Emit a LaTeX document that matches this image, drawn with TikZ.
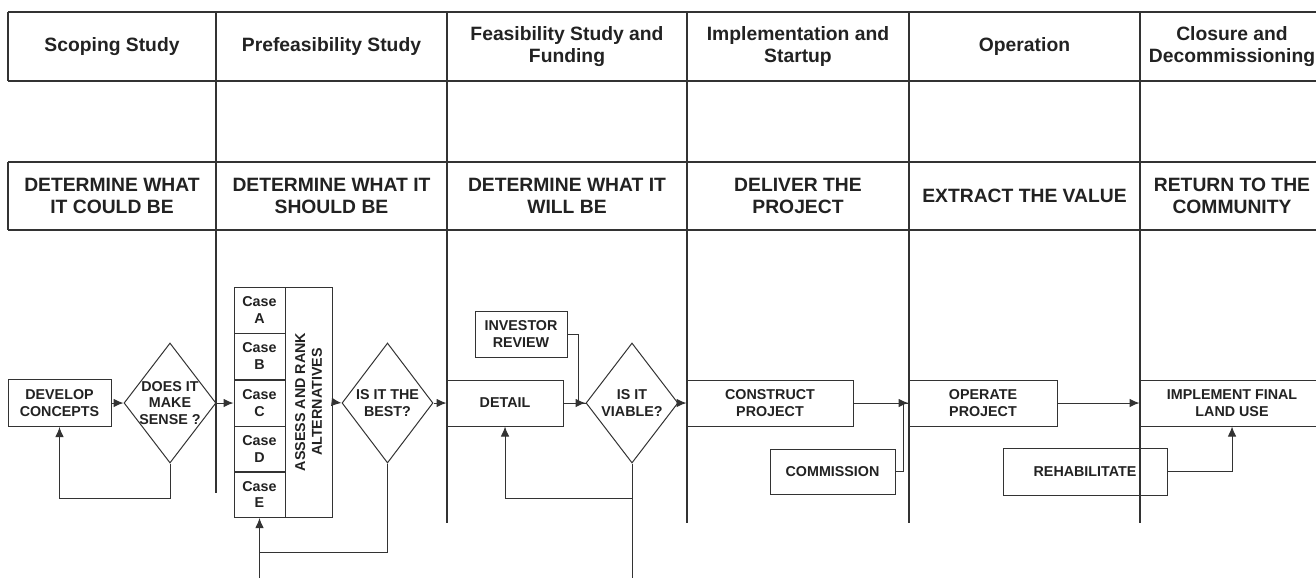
\documentclass[tikz,border=0pt]{standalone}
\usepackage{fontspec}
\setmainfont{Liberation Sans}
\usetikzlibrary{shapes.geometric,arrows.meta}
\newcommand\hdfont{\fontsize{19.3}{22.2}\selectfont\bfseries}
\newcommand\ndfont{\fontsize{14.3}{16.7}\selectfont\bfseries}
\definecolor{ink}{HTML}{222222}
\definecolor{linec}{HTML}{333333}
\begin{document}
\begin{tikzpicture}[x=1pt,y=-1pt,
  grid/.style={draw=linec,line width=1.1pt},
  ln/.style={draw=linec,line width=1pt},
  arr/.style={ln,-{Latex[length=10pt,width=8.5pt]}},
  head/.style={font=\hdfont,text=ink,align=center,inner sep=0pt},
  box/.style={rectangle,draw=linec,line width=1pt,inner sep=0pt,align=center,font=\ndfont,text=ink},
  dia/.style={diamond,draw=linec,line width=1pt,inner sep=0pt},
  dtxt/.style={font=\ndfont,text=ink,align=center,inner sep=0pt}]
\useasboundingbox (0,0) rectangle (1316,578);
\clip (0,0) rectangle (1316,578);
% table grid
\draw[grid] (8,12) -- (1330,12) (8,81) -- (1330,81) (8,162) -- (1330,162) (8,230) -- (1330,230);
\draw[grid] (8,12) -- (8,81) (8,162) -- (8,230);
\draw[grid] (216,12) -- (216,493);
\foreach \x in {447,687,909,1140} \draw[grid] (\x,12) -- (\x,523);
% headers
\node[head] (h1) at (112,46.5) {Scoping Study};
\node[head] (h2) at (331.5,46.5) {Prefeasibility Study};
\node[head] (h3) at (567,46.5) {Feasibility Study and\\Funding};
\node[head] (h4) at (798,46.5) {Implementation and\\Startup};
\node[head] (h5) at (1024.5,46.5) {Operation};
\node[head] (h6) at (1232,46.5) {Closure and\\Decommissioning};
\node[head] (s1) at (112,196) {DETERMINE WHAT\\IT COULD BE};
\node[head] (s2) at (331.5,196) {DETERMINE WHAT IT\\SHOULD BE};
\node[head] (s3) at (567,196) {DETERMINE WHAT IT\\WILL BE};
\node[head] (s4) at (798,196) {DELIVER THE\\PROJECT};
\node[head] (s5) at (1024.5,196) {EXTRACT THE VALUE};
\node[head] (s6) at (1232,196) {RETURN TO THE\\COMMUNITY};
% flow nodes
\node[box,minimum width=103,minimum height=47] (dev) at (59.5,403) {DEVELOP\\CONCEPTS};
\node[dia,minimum width=92,minimum height=120,label={[dtxt]center:DOES IT\\MAKE\\SENSE ?}] (mk) at (170,403) {};
\node[box,minimum width=51,minimum height=46] (caseA) at (259.5,310) {Case\\A};
\node[box,minimum width=51,minimum height=46] (caseB) at (259.5,356) {Case\\B};
\node[box,minimum width=51,minimum height=46] (caseC) at (259.5,403) {Case\\C};
\node[box,minimum width=51,minimum height=46] (caseD) at (259.5,449) {Case\\D};
\node[box,minimum width=51,minimum height=46] (caseE) at (259.5,494.5) {Case\\E};
\node[box,rotate=90,minimum width=230,minimum height=47] (assess) at (308.5,402) {ASSESS AND RANK\\ALTERNATIVES};
\node[dia,minimum width=91,minimum height=120,label={[dtxt]center:IS IT THE\\BEST?}] (best) at (387.5,403) {};
\node[box,minimum width=92,minimum height=46] (inv) at (521,334) {INVESTOR\\REVIEW};
\node[box,minimum width=116,minimum height=46] (detail) at (505,403) {DETAIL};
\node[dia,minimum width=92,minimum height=120,label={[dtxt]center:IS IT\\VIABLE?}] (via) at (632,403) {};
\node[box,minimum width=166,minimum height=46] (con) at (770,403) {CONSTRUCT\\PROJECT};
\node[box,minimum width=125,minimum height=45] (com) at (832.5,471.5) {COMMISSION};
\node[box,minimum width=148,minimum height=46] (op) at (983,403) {OPERATE\\PROJECT};
\node[box,minimum width=184,minimum height=46] (imp) at (1232,403) {IMPLEMENT FINAL\\LAND USE};
\node[box,minimum width=164,minimum height=47] (reh) at (1085,471.5) {REHABILITATE};
\coordinate (in1) at (259.5,578);
\coordinate (j1) at (259.5,552);
\coordinate (out2) at (632,578);
% connectors
\draw[arr] (dev.east) -- (mk.west);
\draw[arr] (mk.south) -- ++(0,35) -| (dev.south);
\draw[arr] (mk.east) -- (caseC.west);
\draw[arr] (assess.south) -- (best.west);
\draw[arr] (best.east) -- (detail.west);
\draw[arr] (in1) -- (caseE.south);
\draw[ln] (best.south) |- (j1);
\draw[arr] (detail.east) -- (via.west);
\draw[ln] (inv.east) -- ++(11,0) |- (via.west);
\draw[ln] (via.south) -- (out2);
\draw[arr] (via.south) ++(0,35) -| (detail.south);
\draw[arr] (via.east) -- (con.west);
\draw[arr] (con.east) -- (op.west);
\draw[ln] (com.east) -- ++(8,0) |- (op.west);
\draw[arr] (op.east) -- (imp.west);
\draw[arr] (reh.east) -| (imp.south);
\end{tikzpicture}
\end{document}
